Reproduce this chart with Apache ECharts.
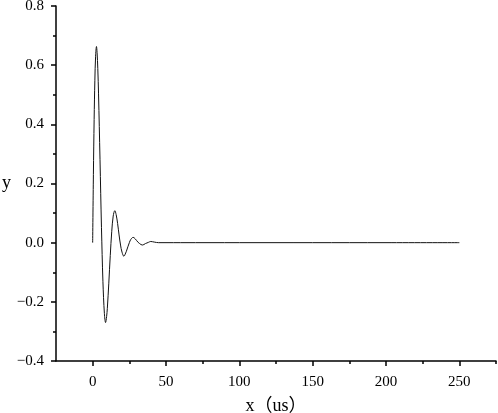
<!DOCTYPE html>
<html>
<head>
<meta charset="utf-8">
<script src="https://cdn.jsdelivr.net/npm/echarts@6/dist/echarts.min.js"></script>
<style>
  html, body { margin: 0; padding: 0; background: #fff; }
  #chart { width: 498px; height: 413px; }
</style>
</head>
<body>
<div id="chart"></div>
<script>
// values
const xs = [0, 0.5, 1, 1.5, 2, 2.6, 3, 3.5, 4, 5, 6, 7, 8, 8.8, 9.5, 10, 11, 12, 13, 14, 15.1, 16, 17, 18, 19, 20, 21.3, 22, 23, 24, 25, 26, 27.6, 29, 30, 31, 32, 33.8, 35, 36, 37, 38, 39.6, 42, 45, 50, 60, 100, 150, 200, 250];
const ys = [0, 0.231, 0.416, 0.549, 0.630, 0.663, 0.643, 0.588, 0.503, 0.282, 0.052, -0.132, -0.240, -0.270, -0.250, -0.222, -0.137, -0.043, 0.037, 0.090, 0.108, 0.095, 0.065, 0.026, -0.008, -0.032, -0.046, -0.041, -0.029, -0.014, 0, 0.011, 0.018, 0.013, 0.007, 0.001, -0.003, -0.008, -0.006, -0.003, -0.001, 0.001, 0.004, 0.002, 0, 0, 0, 0, 0, 0, 0];
const xMajor = [0, 50, 100, 150, 200, 250];
const xMinor = [25, 75, 125, 175, 225, 275];

const font = '"Liberation Serif", "Noto Sans CJK SC", serif';
const chart = echarts.init(document.getElementById('chart'));

chart.setOption({
    animation: false,
    grid: { left: 56, right: 2, top: 6, bottom: 52, containLabel: false, outerBoundsMode: 'none' },
    xAxis: [{
        type: 'value',
        min: -25,
        max: 275,
        interval: 25,
        name: 'x（us）',
        nameLocation: 'middle',
        nameGap: 36,
        nameTextStyle: { fontFamily: font, fontSize: 18, color: '#000' },
        axisLine: { onZero: false, lineStyle: { color: '#000', width: 1.5 } },
        axisTick: { customValues: xMajor, length: 5, lineStyle: { color: '#000', width: 1.5 } },
        axisLabel: { customValues: xMajor, margin: 14, fontFamily: font, fontSize: 15, color: '#000' },
        splitLine: { show: false }
    }, {
        type: 'value',
        min: -25,
        max: 275,
        interval: 25,
        position: 'bottom',
        axisLine: { show: false, onZero: false },
        axisTick: { customValues: xMinor, length: 3, lineStyle: { color: '#000', width: 1.5 } },
        axisLabel: { show: false },
        splitLine: { show: false }
    }],
    yAxis: {
        type: 'value',
        min: -0.4,
        max: 0.8,
        interval: 0.2,
        name: 'y',
        nameLocation: 'middle',
        nameRotate: 0,
        nameGap: 43,
        nameTextStyle: { fontFamily: font, fontSize: 18, color: '#000' },
        axisLine: { show: true, onZero: false, lineStyle: { color: '#000', width: 1.5 } },
        axisTick: { show: true, length: 5, lineStyle: { color: '#000', width: 1.5 } },
        minorTick: { show: true, splitNumber: 2, length: 3, lineStyle: { color: '#000', width: 1.5 } },
        axisLabel: {
            margin: 12,
            fontFamily: font,
            fontSize: 15,
            color: '#000',
            formatter: v => (v < 0 ? '\u2212' : '') + Math.abs(v).toFixed(1)
        },
        splitLine: { show: false }
    },
    series: [{
        type: 'line',
        data: xs.map((x, i) => [x, ys[i]]),
        smooth: 0.35,
        showSymbol: false,
        lineStyle: { color: '#111', width: 1 }
    }]
});
</script>
</body>
</html>
